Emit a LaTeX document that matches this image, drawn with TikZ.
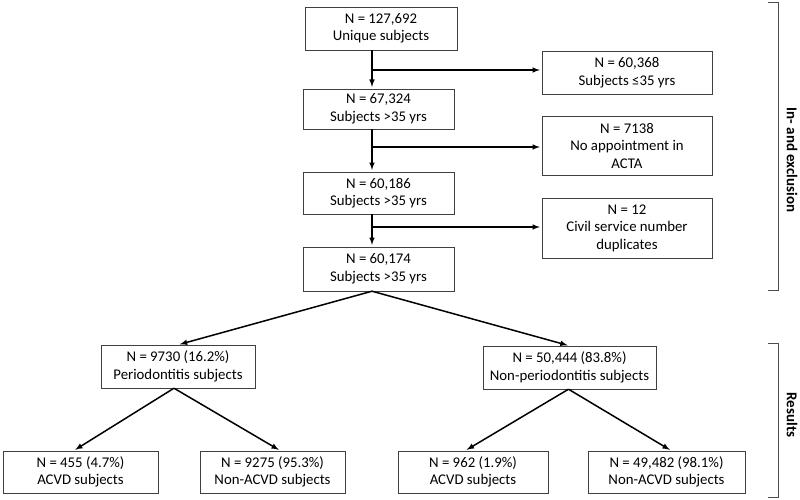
\documentclass[tikz,border=0pt]{standalone}
\usepackage{fontspec}
\setmainfont{Carlito}
\usetikzlibrary{arrows}

\begin{document}
\begin{tikzpicture}[x=1pt,y=-1pt,
        main node/.style={rectangle,draw=black!75,align=center,inner sep=0pt,
          font=\fontsize{14.8}{17.5}\selectfont},
        arr/.style={-latex,line width=1.5pt,shorten >=2pt},
        bracket/.style={draw=black!70,line width=0.8pt}]
      
        \useasboundingbox (0,0) rectangle (800,500);
        \coordinate (c) at (372,0);

        % main column
        \node[main node,minimum width=152,minimum height=43] (1) at (381,28.5) {N = 127,692\\Unique subjects};
        \node[main node,minimum width=151,minimum height=40] (2) at (378.5,109) {N = 67,324\\Subjects >35 yrs};
        \node[main node,minimum width=151,minimum height=42] (3) at (378.5,193) {N = 60,186\\Subjects >35 yrs};
        \node[main node,minimum width=151,minimum height=44] (4) at (378.5,269) {N = 60,174\\Subjects >35 yrs};

        % exclusions
        \node[main node,minimum width=170,minimum height=43] (r1) at (627,72.5) {N = 60,368\\Subjects ≤35 yrs};
        \node[main node,minimum width=170,minimum height=59] (r2) at (627,145.5) {N = 7138\\No appointment in\\ACTA};
        \node[main node,minimum width=170,minimum height=60] (r3) at (627,228) {N = 12\\Civil service number\\duplicates};

        % results
        \node[main node,minimum width=154,minimum height=43] (5) at (178,366.5) {N = 9730 (16.2\%)\\Periodontitis subjects};
        \node[main node,minimum width=173,minimum height=43] (6) at (569.5,367.5) {N = 50,444 (83.8\%)\\Non-periodontitis subjects};
        \node[main node,minimum width=155,minimum height=42] (7) at (80.5,472) {N = 455 (4.7\%)\\ACVD subjects};
        \node[main node,minimum width=145,minimum height=42] (8) at (272.5,472) {N = 9275 (95.3\%)\\Non-ACVD subjects};
        \node[main node,minimum width=150,minimum height=42] (9) at (473,472) {N = 962 (1.9\%)\\ACVD subjects};
        \node[main node,minimum width=157,minimum height=42] (10) at (666.5,472) {N = 49,482 (98.1\%)\\Non-ACVD subjects};

        \draw[arr] (1.south -| c) -- (2.north -| c);
        \draw[arr] (2.south -| c) -- (3.north -| c);
        \draw[arr] (3.south -| c) -- (4.north -| c);
        \draw[arr] (c |- 0,70) -- (r1.west |- 0,70);
        \draw[arr] (c |- 0,147) -- (r2.west |- 0,147);
        \draw[arr] (c |- 0,227) -- (r3.west |- 0,227);

        \draw[arr] (4.south -| c) -- (5.north);
        \draw[arr] (4.south -| c) -- (6.north);
        \draw[arr] ([xshift=-4]5.south) -- ([xshift=-7]7.north);
        \draw[arr] ([xshift=-4]5.south) -- ([xshift=8]8.north);
        \draw[arr] ([xshift=-1]6.south) -- ([xshift=-8]9.north);
        \draw[arr] ([xshift=-1]6.south) -- ([xshift=5]10.north);

        % side brackets
        \draw[bracket] (768,2) -- (778,2) -- (778,290) -- (768,290);
        \draw[bracket] (768,343) -- (778,343) -- (778,497) -- (768,497);
        \node[rotate=-90,font=\fontsize{15}{17}\bfseries] (inex) at (792,160) {In- and exclusion};
        \node[rotate=-90,font=\fontsize{15}{17}\bfseries] (res) at (792,415) {Results};
      \end{tikzpicture}
\end{document}
